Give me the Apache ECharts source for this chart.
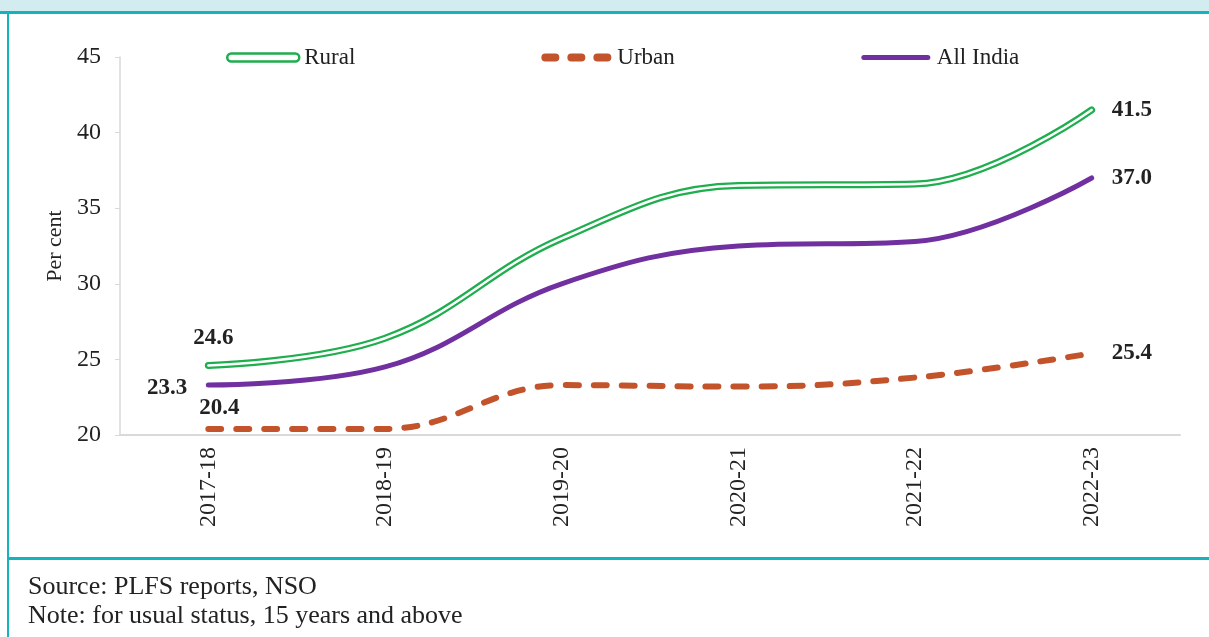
<!DOCTYPE html>
<html>
<head>
<meta charset="utf-8">
<script src="https://cdn.jsdelivr.net/npm/echarts@6/dist/echarts.min.js"></script>
<style>
html,body{margin:0;padding:0;background:#fff;}
#chart{width:1209px;height:637px;}
</style>
</head>
<body>
<div id="chart"></div>
<script>
var categories = ['2017-18','2018-19','2019-20','2020-21','2021-22','2022-23'];
var rural = [24.6, 26.4, 33.0, 36.5, 36.6, 41.5];
var urban = [20.4, 20.4, 23.3, 23.2, 23.8, 25.4];
var allIndia = [23.3, 24.5, 30.0, 32.5, 32.8, 37.0];
var yTicks = [20, 25, 30, 35, 40, 45];

var GREEN = '#1fae4e', ORANGE = '#c3532a', PURPLE = '#7030a0', TEAL = '#14b4bd';
var SERIF = '"Liberation Serif", "Times New Roman", serif';

function withLabels(arr, firstLabel) {
  return arr.map(function (v, i) {
    var d = { value: v };
    if (i === 0) {
      d.label = Object.assign({ show: true }, firstLabel);
    } else if (i === arr.length - 1) {
      d.label = { show: true, position: 'right', distance: 20 };
    }
    return d;
  });
}

var labelBase = {
  show: false,
  fontFamily: SERIF,
  fontWeight: 'bold',
  fontSize: 23,
  color: '#222',
  formatter: function (p) { return p.value.toFixed(1); }
};

var chart = echarts.init(document.getElementById('chart'));
chart.setOption({
  animation: false,
  backgroundColor: '#fff',
  grid: { left: 120, right: 29, top: 57, bottom: 202 },
  legend: {
    left: 221, top: 41,
    itemWidth: 72, itemHeight: 8, itemGap: 186,
    textStyle: { fontFamily: SERIF, fontSize: 23, color: '#222' },
    data: [
      { name: 'Rural', icon: 'path://M4,0 H68 A4,4 0 0 1 68,8 H4 A4,4 0 0 1 4,0 Z',
        itemStyle: { color: '#fff', borderColor: GREEN, borderWidth: 2.5 } },
      { name: 'Urban', icon: 'path://M4,0 H14 A4,4 0 0 1 14,8 H4 A4,4 0 0 1 4,0 Z M30,0 H40 A4,4 0 0 1 40,8 H30 A4,4 0 0 1 30,0 Z M56,0 H66 A4,4 0 0 1 66,8 H56 A4,4 0 0 1 56,0 Z',
        itemStyle: { color: ORANGE, borderWidth: 0 } },
      { name: 'All India', icon: 'path://M0,0 M70,8 M3,1.5 H67 A2.5,2.5 0 0 1 67,6.5 H3 A2.5,2.5 0 0 1 3,1.5 Z',
        itemStyle: { color: PURPLE, borderWidth: 0 } }
    ]
  },
  xAxis: {
    type: 'category',
    data: categories,
    boundaryGap: true,
    axisLine: { show: true, lineStyle: { color: '#d9d9d9', width: 2 } },
    axisTick: { show: false },
    axisLabel: { rotate: 90, margin: 12, fontFamily: SERIF, fontSize: 24, color: '#222' }
  },
  yAxis: {
    type: 'value',
    min: yTicks[0], max: yTicks[yTicks.length - 1], interval: 5,
    name: 'Per cent', nameLocation: 'middle', nameRotate: 90, nameGap: 50,
    nameTextStyle: { fontFamily: SERIF, fontSize: 22, color: '#222' },
    axisLine: { show: true, lineStyle: { color: '#d9d9d9', width: 1.5 } },
    axisTick: { show: true, length: 5, lineStyle: { color: '#d9d9d9' } },
    splitLine: { show: false },
    axisLabel: { margin: 19, fontFamily: SERIF, fontSize: 24, color: '#222' }
  },
  series: [
    {
      name: 'Rural', type: 'line', smooth: 0.4, symbol: 'circle', symbolSize: 0.01, showSymbol: true, z: 3,
      lineStyle: { color: GREEN, width: 7, cap: 'round' },
      itemStyle: { color: GREEN },
      label: labelBase,
      data: withLabels(rural, { position: 'top', distance: 16, offset: [5, 0] })
    },
    {
      name: 'Rural inner', type: 'line', smooth: 0.4, symbol: 'none', z: 4,
      lineStyle: { color: '#fff', width: 2.5, cap: 'round' },
      silent: true,
      data: rural
    },
    {
      name: 'Urban', type: 'line', smooth: 0.4, symbol: 'circle', symbolSize: 0.01, showSymbol: true, z: 2,
      lineStyle: { color: ORANGE, width: 6, type: [13, 15], cap: 'round' },
      itemStyle: { color: ORANGE },
      label: labelBase,
      data: withLabels(urban, { position: 'top', distance: 9, offset: [11, 0] })
    },
    {
      name: 'All India', type: 'line', smooth: 0.4, symbol: 'circle', symbolSize: 0.01, showSymbol: true, z: 2,
      lineStyle: { color: PURPLE, width: 5, cap: 'round' },
      itemStyle: { color: PURPLE },
      label: labelBase,
      data: withLabels(allIndia, { position: 'left', distance: 21, offset: [0, 3] })
    }
  ],
  graphic: [
    { type: 'rect', left: 0, top: 0, shape: { width: 1209, height: 11 }, style: { fill: '#d3ecf0' }, silent: true },
    { type: 'rect', left: 0, top: 11, shape: { width: 1209, height: 3 }, style: { fill: TEAL }, silent: true },
    { type: 'rect', left: 7, top: 11, shape: { width: 2, height: 626 }, style: { fill: TEAL }, silent: true },
    { type: 'rect', left: 7, top: 557, shape: { width: 1202, height: 3 }, style: { fill: TEAL }, silent: true },
    { type: 'text', left: 28, top: 574, style: { text: 'Source: PLFS reports, NSO', fontFamily: SERIF, fontSize: 26, fill: '#222' } },
    { type: 'text', left: 28, top: 603, style: { text: 'Note: for usual status, 15 years and above', fontFamily: SERIF, fontSize: 26, fill: '#222' } }
  ]
});
</script>
</body>
</html>
